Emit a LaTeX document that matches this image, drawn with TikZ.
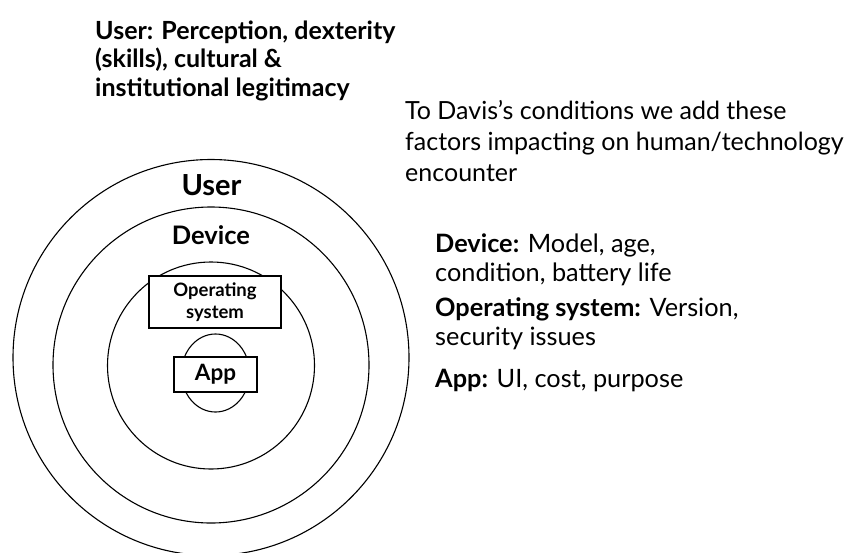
\documentclass[tikz,border=0pt]{standalone}
\usepackage{fontspec}
\setmainfont{Lato}
\begin{document}
\begin{tikzpicture}[x=1pt,y=-1pt,
  ring/.style={draw=black, line width=1.1pt},
  lbox/.style={draw=black, line width=1.1pt, fill=white, inner sep=0pt, align=center},
  ttl/.style={anchor=base west, inner sep=0pt, font=\fontsize{25}{30}\selectfont\bfseries},
  rtx/.style={anchor=base west, inner sep=0pt, font=\fontsize{25}{30}\selectfont},
  itm/.style={anchor=base west, inner sep=0pt, font=\fontsize{25.3}{30}\selectfont},
  clab/.style={anchor=base, inner sep=0pt}]
\useasboundingbox (0,0) rectangle (851,552);
% rings
\draw[ring] (211,357.5) circle [radius=198pt];
\draw[ring] (211,365) circle [radius=158pt];
\draw[ring] (211,365.5) circle [radius=103.5pt];
\draw[ring] (215.5,373) ellipse [x radius=34pt, y radius=39pt];
% ring labels
\node[clab, font=\fontsize{29}{34}\selectfont\bfseries] (userlab) at (211.5,195) {User};
\node[clab, font=\fontsize{25.5}{30}\selectfont\bfseries] (devlab) at (211,244) {Device};
\node[lbox, minimum width=132pt, minimum height=52pt, font=\fontsize{18.5}{21.6}\selectfont\bfseries] (os) at (215,302) {Operating\\system};
\node[lbox, minimum width=83pt, minimum height=35pt, font=\fontsize{22.5}{26}\selectfont\bfseries] (app) at (215.5,374.5) {App};
% top-left text
\node[ttl] (u1) at (95,39) {User: Perception, dexterity};
\node[ttl] (u2) at (95,67.5) {(skills), cultural \&};
\node[ttl] (u3) at (95,96) {institutional legitimacy};
% right text
\node[rtx] (r1) at (405,119) {To Davis’s conditions we add these};
\node[rtx] (r2) at (405,150) {factors impacting on human/technology};
\node[rtx] (r3) at (405,181) {encounter};
\node[itm] (d1) at (435,252) {\textbf{Device:} Model, age,};
\node[itm] (d2) at (435,281) {condition, battery life};
\node[itm] (o1) at (435,316.5) {\textbf{Operating system:} Version,};
\node[itm] (o2) at (435,345.5) {security issues};
\node[itm] (a1) at (435,387) {\textbf{App:} UI, cost, purpose};
\end{tikzpicture}
\end{document}
